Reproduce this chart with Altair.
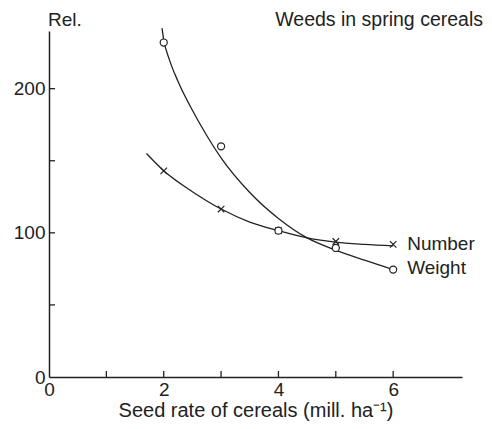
import altair as alt
import pandas as pd

# ---- data ----
seed_rate = [2, 3, 4, 5, 6]
weight_rel = [232, 160, 101.5, 89.5, 74.5]
number_rel = [143, 116.5, 101.5, 94, 92]

weight_curve_x = [1.97, 2.0, 2.1, 2.25, 2.5, 2.75, 3.0, 3.5, 4.0, 4.5, 5.0, 5.5, 6.0]
weight_curve_y = [242, 234, 220, 205, 185, 167.5, 152, 128, 110, 96.5, 88, 81, 74.5]
number_curve_x = [1.7, 2.0, 2.5, 3.0, 3.5, 4.0, 4.5, 5.0, 5.5, 6.0]
number_curve_y = [155, 143, 128.5, 116.5, 107.5, 101.5, 96.5, 93.5, 92, 91]

series_names = ["Number", "Weight"]
series_label_x = [6, 6]
series_label_y = [91, 74.5]

x_tick_values = [0, 1, 2, 3, 4, 5, 6]
y_tick_values = [0, 50, 100, 150, 200]

# ---- layout ----
W, H = 413, 346
XMAX, YMAX = 7.2, 240
INK = "#222222"
FONT = "Liberation Sans"

xs = alt.Scale(domain=[0, XMAX], nice=False, zero=True)
ys = alt.Scale(domain=[0, YMAX], nice=False, zero=True)

obs = pd.DataFrame({"x": seed_rate, "w": weight_rel, "n": number_rel})
wc = pd.DataFrame({"x": weight_curve_x, "y": weight_curve_y})
nc = pd.DataFrame({"x": number_curve_x, "y": number_curve_y})
lab = pd.DataFrame({"x": series_label_x, "y": series_label_y, "t": series_names})
xt = pd.DataFrame({"x": x_tick_values[1:]})
yt = pd.DataFrame({"y": y_tick_values[1:]})
one = pd.DataFrame({"a": [0]})

x_axis = alt.Axis(
    values=x_tick_values,
    labelExpr="datum.value % 2 == 0 ? datum.label : ''",
    ticks=False, grid=False, labelFlush=False,
    title="Seed rate of cereals (mill. ha\u207b\u00b9)",
    labelPadding=3, titlePadding=1,
)
y_axis = alt.Axis(
    values=y_tick_values,
    labelExpr="datum.value % 100 == 0 ? datum.label : ''",
    ticks=False, grid=False, title="", labelFlush=False,
    labelPadding=4,
)


def X(field):
    return alt.X(field, type="quantitative", scale=xs, axis=x_axis)


def Y(field):
    return alt.Y(field, type="quantitative", scale=ys, axis=y_axis)


weight_line = alt.Chart(wc).mark_line(
    interpolate="monotone", color=INK, strokeWidth=1.3
).encode(x=X("x"), y=Y("y"))

number_line = alt.Chart(nc).mark_line(
    interpolate="monotone", color=INK, strokeWidth=1.3
).encode(x=X("x"), y=Y("y"))

crosses = alt.Chart(obs).mark_point(
    shape="M-1,-1L1,1M-1,1L1,-1", filled=False, stroke=INK,
    strokeWidth=1.2, size=42, opacity=1
).encode(x=X("x"), y=Y("n"))

circles = alt.Chart(obs).mark_point(
    shape="circle", filled=True, fill="white", stroke=INK,
    strokeWidth=1.2, size=50, opacity=1
).encode(x=X("x"), y=Y("w"))

x_ticks = alt.Chart(xt).mark_rule(color=INK, strokeWidth=1.3).encode(
    x=X("x"), y=alt.value(H), y2=alt.value(H - 6),
)
y_ticks = alt.Chart(yt).mark_rule(color=INK, strokeWidth=1.3).encode(
    y=Y("y"), x=alt.value(0), x2=alt.value(6),
)

series_text = alt.Chart(lab).mark_text(
    align="left", baseline="alphabetic", dx=14, dy=4,
    font=FONT, fontSize=19, color=INK
).encode(x=X("x"), y=Y("y"), text="t:N")

rel_text = alt.Chart(one).mark_text(
    align="left", baseline="alphabetic", font=FONT, fontSize=19, color=INK
).encode(x=alt.value(-1), y=alt.value(-5), text=alt.value("Rel."))

title_text = alt.Chart(one).mark_text(
    align="right", baseline="alphabetic", font=FONT, fontSize=19.5, color=INK
).encode(x=alt.value(434), y=alt.value(-5), text=alt.value("Weeds in spring cereals"))

chart = alt.layer(
    weight_line, number_line, x_ticks, y_ticks, crosses, circles,
    series_text, rel_text, title_text
).properties(
    width=W, height=H,
    autosize=alt.AutoSizeParams(type="none"),
    padding={"left": 41, "top": 23, "right": 22, "bottom": 44},
    background="white",
).configure_view(stroke=None).configure_axis(
    domainColor=INK, domainWidth=1.5,
    labelColor=INK, titleColor=INK,
    labelFont=FONT, titleFont=FONT,
    labelFontSize=19, titleFontSize=20, titleFontWeight="normal",
)

chart.save("out.html", embed_options={"renderer": "svg", "actions": False})
